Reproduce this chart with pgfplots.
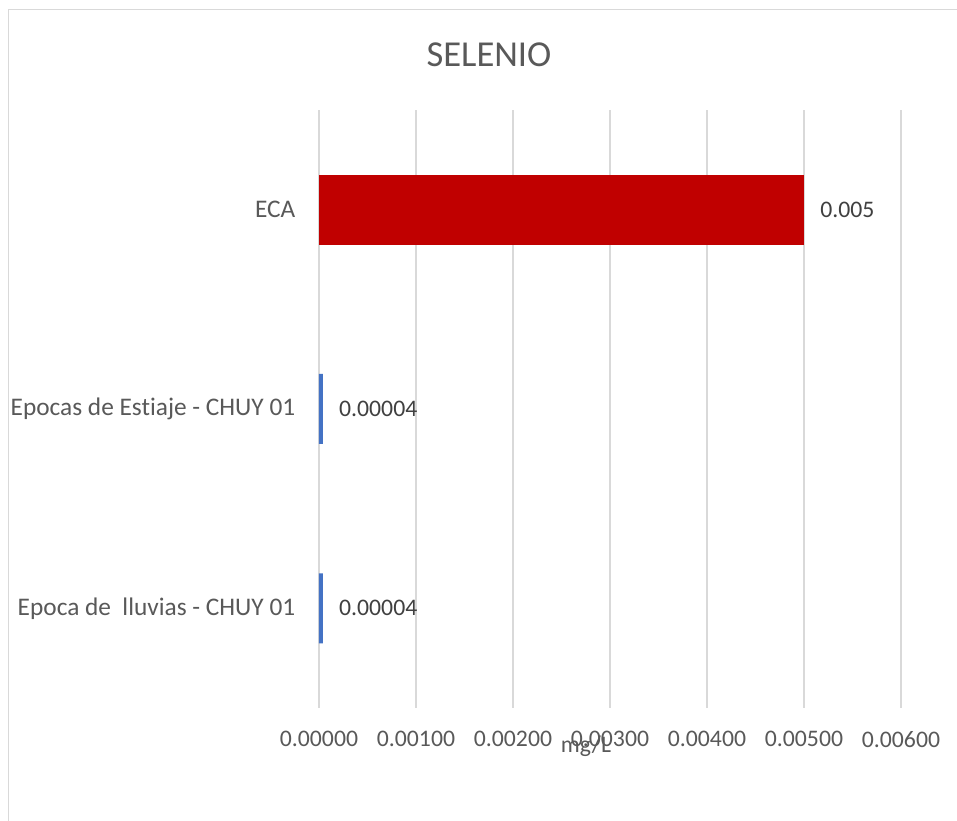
\documentclass[border=0pt]{standalone}
\usepackage{fontspec}
\setmainfont[Ligatures=NoCommon]{Carlito}
\usepackage{pgfplots}
\pgfplotsset{compat=1.18}
\definecolor{gridc}{HTML}{D9D9D9}
\definecolor{txt}{HTML}{595959}
\definecolor{lbl}{HTML}{404040}
\definecolor{redbar}{HTML}{C00000}
\definecolor{bluebar}{HTML}{4472C4}
\begin{document}
\begin{tikzpicture}
\useasboundingbox (0pt,0pt) rectangle (717.75pt,615.75pt);
\fill[white] (0pt,0pt) rectangle (717.75pt,615.75pt);
\draw[gridc, line width=0.75pt] (6pt,-15pt) -- (6pt,608.25pt) -- (742pt,608.25pt);
\begin{axis}[
  at={(239.25pt,84.75pt)}, anchor=south west,
  scale only axis, width=436.5pt, height=448.5pt,
  xbar, bar shift=0pt, bar width=52.5pt,
  xmin=0, xmax=0.006, ymin=-0.5, ymax=2.5,
  axis line style={draw=none},
  tick style={draw=none},
  xtick={0,0.001,0.002,0.003,0.004,0.005,0.006},
  xticklabels={0.00000,0.00100,0.00200,0.00300,0.00400,0.00500,0.00600},
  ytick={0,1,2},
  yticklabels={Epoca de \ lluvias - CHUY 01,Epocas de Estiaje - CHUY 01,ECA},
  xmajorgrids, major grid style={gridc, line width=1.5pt},
  ticklabel style={text=txt},
  xticklabel style={font=\fontsize{17.8}{21}\selectfont, yshift=-14pt},
  yticklabel style={font=\fontsize{19}{22}\selectfont, xshift=-10pt},
  scaled x ticks=false,
  clip=false,
  point meta=explicit symbolic,
  nodes near coords,
  nodes near coords align={horizontal},
  every node near coord/.append style={font=\fontsize{17.8}{21}\selectfont, text=lbl, anchor=west, xshift=12pt, yshift=0pt, inner sep=0pt},
]
\addplot[fill=bluebar, draw=none] coordinates {(0.00004,0) [0.00004] (0.00004,1) [0.00004]};
\addplot[fill=redbar, draw=none] coordinates {(0.005,2) [0.005]};
\end{axis}
\node[text=txt, font=\fontsize{27.4}{32}\selectfont, inner sep=0pt] at (366.75pt,574.5pt) {SELENIO};
\node[text=txt, font=\fontsize{17.8}{21}\selectfont, inner sep=0pt] at (439.5pt,56.25pt) {mg/L};
\end{tikzpicture}
\end{document}
